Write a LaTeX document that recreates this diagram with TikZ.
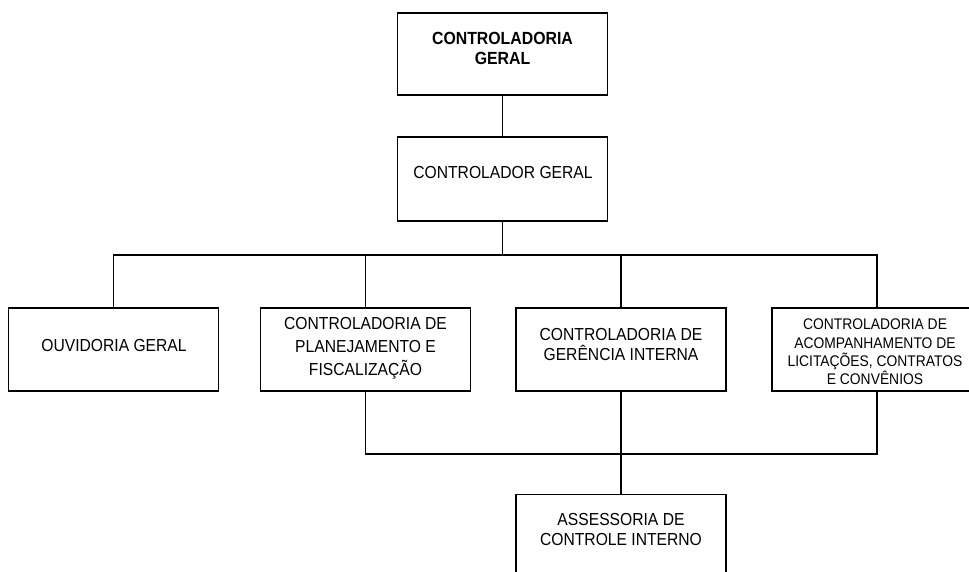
\documentclass[tikz,border=0pt]{standalone}
\usepackage{fontspec}
\setmainfont{Liberation Sans}[FakeStretch=0.9]
\begin{document}
\begin{tikzpicture}[x=1pt,y=-1pt,
  box/.style={draw=black,line width=1.3pt,rectangle,inner sep=0pt,minimum width=210pt,minimum height=83pt},
  lbl/.style={inner sep=0pt,align=center,font=\fontsize{17.4}{20}\selectfont},
  small/.style={inner sep=0pt,align=center,font=\fontsize{15.4}{18.3}\selectfont},
  conn/.style={draw=black,line width=1.3pt}]
\useasboundingbox[fill=white] (0,0) rectangle (969,572);
% boxes
\node[box,minimum height=82pt] (top) at (502.5,54) {};
\node[box,minimum height=84pt] (ctrl) at (502.5,179) {};
\node[box] (ouv) at (113.5,349.5) {};
\node[box] (plan) at (365.5,349.5) {};
\node[box] (ger) at (621,349.5) {};
\node[box] (acomp) at (877,349.5) {};
\node[box] (ass) at (621,536) {};
% labels
\node[lbl,font=\fontsize{17.6}{20}\selectfont\bfseries] (topl) at (502.5,48) {CONTROLADORIA\\GERAL};
\node[lbl] (ctrll) at (503,173) {CONTROLADOR GERAL};
\node[lbl] (ouvl) at (114,346) {OUVIDORIA GERAL};
\node[lbl,font=\fontsize{17.4}{23}\selectfont] (planl) at (365.5,348) {CONTROLADORIA DE\\PLANEJAMENTO E\\FISCALIZAÇÃO};
\node[lbl] (gerl) at (621,345) {CONTROLADORIA DE\\GERÊNCIA INTERNA};
\node[small] (acompl) at (875,352) {CONTROLADORIA DE\\ACOMPANHAMENTO DE\\LICITAÇÕES, CONTRATOS\\E CONVÊNIOS};
\node[lbl] (assl) at (621,530) {ASSESSORIA DE\\CONTROLE INTERNO};
% connectors
\coordinate (bus) at (502.5,255);
\coordinate (bus2) at (621,454);
\draw[conn] (top.south) -- (ctrl.north);
\draw[conn] (ctrl.south) -- (bus);
\draw[conn] (ouv.north) |- (bus) -| (acomp.north);
\draw[conn] (plan.north) -- (plan.north |- bus);
\draw[conn] (ger.north) -- (ger.north |- bus);
\draw[conn] (plan.south) |- (bus2) -| (acomp.south);
\draw[conn] (ger.south) -- (ass.north);
\end{tikzpicture}
\end{document}
